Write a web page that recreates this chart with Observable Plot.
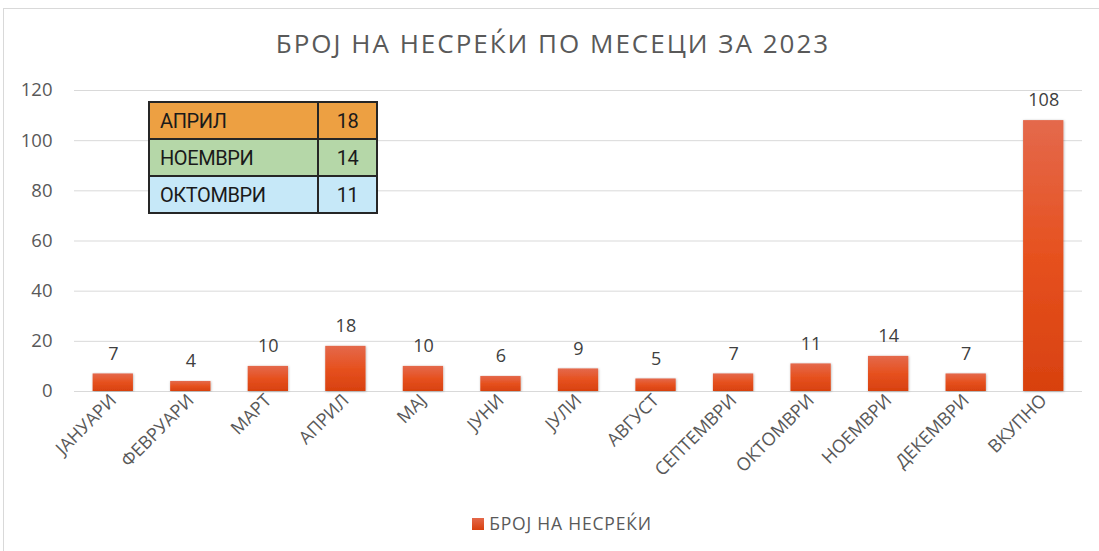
<!DOCTYPE html>
<html>
<head>
<meta charset="utf-8">
<script src="https://cdn.jsdelivr.net/npm/d3@7"></script>
<script src="https://cdn.jsdelivr.net/npm/@observablehq/plot@0.6"></script>
<style>
  html, body { margin: 0; padding: 0; background: #fff; }
  #wrap { position: relative; width: 1099px; height: 551px; overflow: hidden; font-family: "Open Sans", sans-serif; }
  #frame { position: absolute; left: 3px; top: 8px; width: 1200px; height: 600px; border: 1px solid #d9d9d9; box-sizing: border-box; }
  #title { position: absolute; left: 0; top: 25px; width: 1099px; text-align: center; font-size: 26px; color: #595959; letter-spacing: 2px; padding-left: 7px; box-sizing: border-box; }
  #chart { position: absolute; left: 0; top: 75px; }
  #legend { position: absolute; left: 0; top: 511px; width: 1099px; text-align: center; font-size: 17.5px; color: #595959; letter-spacing: 0.8px; padding-left: 25px; box-sizing: border-box; }
  #legend .sw { display: inline-block; width: 12px; height: 12px; background: linear-gradient(#e4684a, #d8400e); vertical-align: 0px; margin-right: 5px; }
  #tbl { position: absolute; left: 148px; top: 101px; border-collapse: collapse; font-family: Roboto, sans-serif; font-size: 20px; letter-spacing: -0.4px; color: #1a1a1a; }
  #tbl td { border: 2px solid #262626; height: 35px; padding: 0; }
  #tbl td.n { width: 169px; padding-left: 10px; box-sizing: border-box; }
  #tbl td.v { width: 57px; text-align: center; }
  #chart g[aria-label="y-axis tick label"] { font-size: 18.5px !important; }
  #chart g[aria-label="x-axis tick label"] { font-size: 18px !important; }
  #chart g[aria-label="text"] { font-size: 18px !important; }
</style>
</head>
<body>
<div id="wrap">
  <div id="frame"></div>
  <div id="title"></div>
  <div id="chart"></div>
  <div id="legend"></div>
  <table id="tbl"></table>
</div>
<script>
const months = ["ЈАНУАРИ","ФЕВРУАРИ","МАРТ","АПРИЛ","МАЈ","ЈУНИ","ЈУЛИ","АВГУСТ","СЕПТЕМВРИ","ОКТОМВРИ","НОЕМВРИ","ДЕКЕМВРИ","ВКУПНО"];
const values = [7,4,10,18,10,6,9,5,7,11,14,7,108];
const yTicks = [0,20,40,60,80,100,120];
const titleText = "БРОЈ НА НЕСРЕЌИ ПО МЕСЕЦИ ЗА 2023";
const seriesName = "БРОЈ НА НЕСРЕЌИ";
const tableNames = ["АПРИЛ","НОЕМВРИ","ОКТОМВРИ"];
const tableValues = [18,14,11];
const tableColors = ["#eda042","#b5d7a8","#c6e8f8"];

const data = months.map((m, i) => ({month: m, value: values[i]}));

document.getElementById("title").textContent = titleText;
document.getElementById("legend").innerHTML = '<span class="sw"></span>' + seriesName;

const tbl = document.getElementById("tbl");
tableNames.forEach((n, i) => {
  const tr = document.createElement("tr");
  tr.style.background = tableColors[i];
  const a = document.createElement("td"); a.className = "n"; a.textContent = n;
  const b = document.createElement("td"); b.className = "v"; b.textContent = tableValues[i];
  tr.appendChild(a); tr.appendChild(b); tbl.appendChild(tr);
});

const defs = () => {
  const ns = "http://www.w3.org/2000/svg";
  const d = document.createElementNS(ns, "defs");
  d.innerHTML = `
    <linearGradient id="barGrad" x1="0" y1="0" x2="0" y2="1">
      <stop offset="0%" stop-color="#e4694c"/>
      <stop offset="50%" stop-color="#e6511f"/>
      <stop offset="100%" stop-color="#d8410f"/>
    </linearGradient>
    <filter id="sh" x="-20%" y="-5%" width="140%" height="110%">
      <feDropShadow dx="0.5" dy="0.5" stdDeviation="1.2" flood-color="#000" flood-opacity="0.3"/>
    </filter>`;
  return d;
};

const chart = Plot.plot({
  width: 1099,
  height: 425,
  marginLeft: 74,
  marginRight: 17,
  marginTop: 15,
  marginBottom: 109,
  style: { fontFamily: "Open Sans, sans-serif", fontSize: "16px", color: "#595959", background: "transparent" },
  x: { domain: months, paddingInner: 0.48, paddingOuter: 0.24, round: false, label: null },
  y: { domain: [0, 120], label: null },
  marks: [
    defs,
    Plot.ruleY(yTicks, { stroke: "#d9d9d9", strokeWidth: 1 }),
    Plot.barY(data, { x: "month", y: "value", fill: "url(#barGrad)" }),
    Plot.text(data, { x: "month", y: "value", text: d => String(d.value), dy: -20, fontSize: 18, fill: "#404040" }),
    Plot.axisY({ ticks: yTicks, tickSize: 0, tickPadding: 22, fontSize: 18.5, fill: "#595959", label: null }),
    Plot.axisX({ tickSize: 0, tickRotate: -45, tickPadding: 6, fontSize: 18, fill: "#595959", label: null })
  ]
});
chart.querySelectorAll("rect").forEach(r => r.setAttribute("filter", "url(#sh)"));
document.getElementById("chart").appendChild(chart);
</script>
</body>
</html>
